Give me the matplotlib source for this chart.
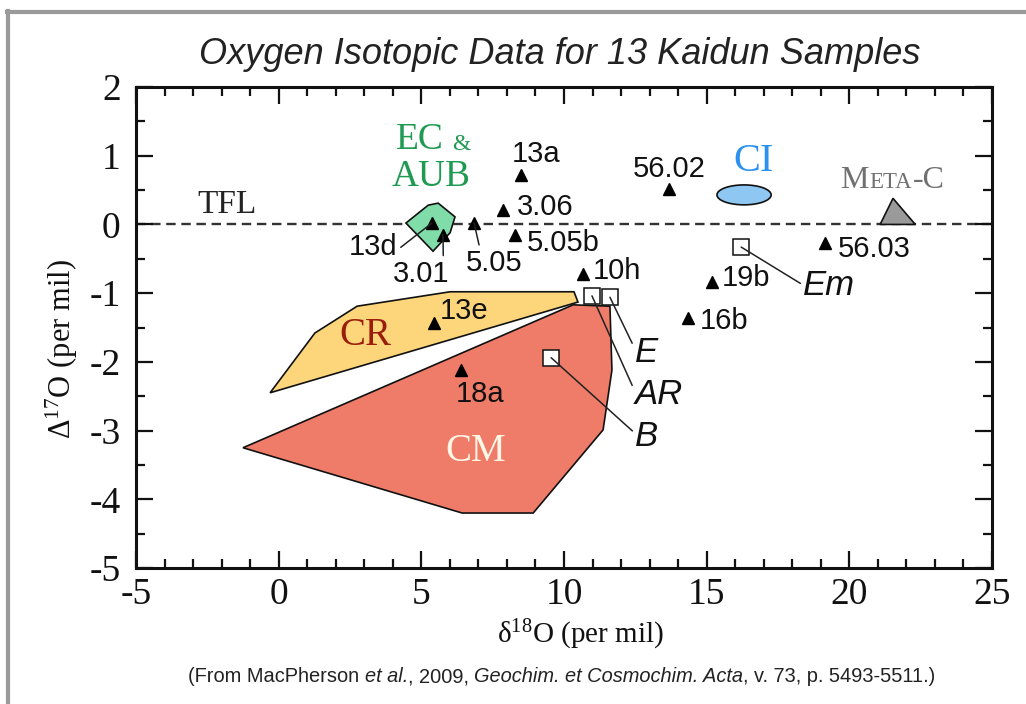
import matplotlib
matplotlib.use('Agg')
import matplotlib.pyplot as plt
from matplotlib.patches import Polygon, Ellipse
from matplotlib.lines import Line2D
from matplotlib.text import Annotation
from matplotlib.ticker import MultipleLocator

plt.rcParams['axes.unicode_minus'] = False
plt.rcParams['mathtext.fontset'] = 'custom'
plt.rcParams['mathtext.rm'] = 'Liberation Serif'
plt.rcParams['mathtext.it'] = 'Liberation Serif:italic'
plt.rcParams['mathtext.bf'] = 'Liberation Serif:bold'

# ---------------- data ----------------
samples = ['13a', '3.06', '5.05b', '13d', '3.01', '5.05', '56.02', '56.03',
           '10h', '19b', '16b', '13e', '18a']
d18O = [8.48, 7.86, 8.28, 5.37, 5.76, 6.85, 13.68, 19.15,
        10.67, 15.19, 14.35, 5.45, 6.39]
D17O = [0.72, 0.21, -0.15, 0.02, -0.15, 0.02, 0.52, -0.27,
        -0.72, -0.84, -1.36, -1.43, -2.12]

groups = ['E', 'AR', 'B', 'Em']
group_d18O = [11.61, 10.98, 9.55, 16.21]
group_D17O = [-1.06, -1.04, -1.94, -0.33]

ec_aub_x = [4.46, 5.24, 5.59, 6.18, 6.01, 5.41]
ec_aub_y = [0.02, 0.28, 0.31, 0.11, -0.12, -0.39]
cr_x = [-0.30, 1.27, 2.75, 6.01, 10.35, 10.49]
cr_y = [-2.45, -1.58, -1.19, -0.98, -0.98, -1.13]
cm_x = [-1.25, 10.32, 11.61, 11.68, 11.37, 8.92, 6.43]
cm_y = [-3.25, -1.17, -1.19, -2.12, -2.99, -4.20, -4.20]
ci_center = (16.31, 0.43)
ci_size = (1.9, 0.29)
metac_x = [21.08, 21.53, 22.31]
metac_y = [0.0, 0.38, 0.0]
tfl_value = 0.0

xticks = [-5, 0, 5, 10, 15, 20, 25]
yticks = [-5, -4, -3, -2, -1, 0, 1, 2]

# ---------------- layout / style ----------------
W, H = 1026, 704
def fx(px): return px / W
def fy(py): return 1 - py / H

SERIF = 'Liberation Serif'
SANS = 'Liberation Sans'

fig = plt.figure(figsize=(W / 100, H / 100), dpi=100)
ax = fig.add_axes([fx(136), fy(568), (992 - 136) / W, (568 - 87) / H])
ax.set_xlim(-5, 25)
ax.set_ylim(-5, 2)
ax.set_xticks(xticks)
ax.set_yticks(yticks)
ax.set_xticklabels([str(t) for t in xticks])
ax.set_yticklabels([str(t) for t in yticks])
ax.xaxis.set_minor_locator(MultipleLocator(1))
ax.yaxis.set_minor_locator(MultipleLocator(0.5))
ax.tick_params(which='both', direction='in', top=True, right=True,
               width=1.6, color='#111')
ax.tick_params(which='major', length=12)
ax.tick_params(which='minor', length=6.5)
ax.tick_params(axis='y', which='major', pad=11)
ax.tick_params(axis='x', which='major', pad=7)
for lab in ax.get_xticklabels() + ax.get_yticklabels():
    lab.set_fontfamily(SERIF)
    lab.set_fontsize(27)
    lab.set_color('#111')
for s in ax.spines.values():
    s.set_linewidth(2.2)
    s.set_color('#111')

# TFL
ax.axhline(tfl_value, color='#333', lw=1.7, dashes=(4.0, 2.4), zorder=1)
ax.text(-1.81, 0.28, 'TFL', fontfamily=SERIF, fontsize=24, color='#222',
        ha='center', va='center')

# fields
ax.add_patch(Polygon(list(zip(cm_x, cm_y)), closed=True, facecolor='#ef7b69',
                     edgecolor='#111', lw=1.2, zorder=2))
ax.add_patch(Polygon(list(zip(cr_x, cr_y)), closed=True, facecolor='#fdd67c',
                     edgecolor='#111', lw=1.2, zorder=2))
ax.add_patch(Polygon(list(zip(ec_aub_x, ec_aub_y)), closed=True,
                     facecolor='#80dca8', edgecolor='#111', lw=1.2, zorder=2))
ax.add_patch(Ellipse(ci_center, ci_size[0], ci_size[1], facecolor='#8ec8f2',
                     edgecolor='#111', lw=1.2, zorder=2))
ax.add_patch(Polygon(list(zip(metac_x, metac_y)), closed=True,
                     facecolor='#9a9a9a', edgecolor='#111', lw=1.2, zorder=2))

# field labels
ax.text(4.95, 1.23, 'EC', fontfamily=SERIF, fontsize=27, color='#1f9a52',
        ha='center', va='center')
ax.text(6.39, 1.17, '&', fontfamily=SERIF, fontsize=17, color='#1f9a52',
        ha='center', va='center')
ax.text(5.34, 0.70, 'AUB', fontfamily=SERIF, fontsize=27, color='#1f9a52',
        ha='center', va='center')
ax.text(3.03, -1.62, 'CR', fontfamily=SERIF, fontsize=28, color='#9a1c0a',
        ha='center', va='center', zorder=3)
ax.text(6.92, -3.30, 'CM', fontfamily=SERIF, fontsize=28, color='#fff7e6',
        ha='center', va='center', zorder=3)
ax.text(16.63, 0.91, 'CI', fontfamily=SERIF, fontsize=29, color='#2b90ee',
        ha='center', va='center')
tM = ax.text(19.68, 0.53, 'M', fontfamily=SERIF, fontsize=23, color='#707070',
             ha='left', va='baseline')
tE = ax.annotate('ETA', xy=(1, 0), xycoords=tM, xytext=(0.5, 1.5),
                 textcoords='offset points', fontfamily=SERIF, fontsize=16.5,
                 color='#707070', ha='left', va='bottom')
ax.annotate('-C', xy=(1, 0), xycoords=tE, xytext=(0.5, -1.5),
            textcoords='offset points', fontfamily=SERIF, fontsize=23,
            color='#707070', ha='left', va='bottom')

# group squares
ax.plot(group_d18O, group_D17O, linestyle='none', marker='s', ms=12,
        mfc='white', mec='#111', mew=1.1, zorder=4)
grp_off = {'E': (25, -55, (0, 0.6)), 'AR': (43, -99, (0, 0.6)),
           'B': (84, -79, (0, 0.6)), 'Em': (62, -38, (0, 0.5))}
for g, x, y in zip(groups, group_d18O, group_D17O):
    dx, dy, rp = grp_off[g]
    ax.annotate(g, xy=(x, y), xytext=(dx, dy), textcoords='offset pixels',
                fontfamily=SANS, fontstyle='italic', fontsize=25, color='#111',
                ha='left', va='center', zorder=5,
                arrowprops=dict(arrowstyle='-', color='#222', lw=1.1,
                                shrinkA=0, shrinkB=0, relpos=rp))

# sample triangles
ax.plot(d18O, D17O, linestyle='none', marker='^', ms=9, mfc='black',
        mec='black', zorder=5)
lab_off = {'13a': (15, 21, 'center', None), '3.06': (14, 3, 'left', None),
           '5.05b': (12, -8, 'left', None),
           '13d': (-35, -24, 'right', (1.05, 0.45)),
           '3.01': (-22, -39, 'center', (0.9, 0.0)),
           '5.05': (20, -40, 'center', (0.25, 1.0)),
           '56.02': (0, 20, 'center', None), '56.03': (13, -6, 'left', None),
           '10h': (10, 3, 'left', None), '19b': (10, 4, 'left', None),
           '16b': (12, -3, 'left', None), '13e': (6, 12, 'left', None),
           '18a': (19, -24, 'center', None)}
for s, x, y in zip(samples, d18O, D17O):
    dx, dy, ha, rp = lab_off[s]
    kw = {}
    if rp is not None:
        kw['arrowprops'] = dict(arrowstyle='-', color='#222', lw=1.1,
                                shrinkA=1, shrinkB=0, relpos=rp)
    ax.annotate(s, xy=(x, y), xytext=(dx, dy), textcoords='offset pixels',
                fontfamily=SANS, fontsize=21, color='#111', ha=ha,
                va='center', zorder=6, **kw)

# axis labels
fig.text(fx(580), fy(635), 'δ$^{18}$O (per mil)', fontfamily=SERIF,
         fontsize=21, ha='center', va='center', color='#111')
fig.text(fx(62), fy(349), 'Δ$^{17}$O (per mil)', fontfamily=SERIF,
         fontsize=22, ha='center', va='center', rotation=90, color='#111')

# title
fig.text(fx(560), fy(55), 'Oxygen Isotopic Data for 13 Kaidun Samples',
         fontfamily=SANS, fontstyle='italic', fontsize=26, ha='center',
         va='center', color='#222')

# caption (chained pieces, mixed upright / italic)
parts = [('(From MacPherson ', 'normal'), ('et al.', 'italic'),
         (', 2009, ', 'normal'), ('Geochim. et Cosmochim. Acta', 'italic'),
         (', v. 73, p. 5493-5511.)', 'normal')]
CAP = 14.4
prev = fig.text(fx(188), fy(677), parts[0][0], fontfamily=SANS, fontsize=CAP,
                ha='left', va='center', color='#222')
for txt, st in parts[1:]:
    prev = fig.add_artist(Annotation(
        txt, xy=(1, 0), xycoords=prev, xytext=(0, 0),
        textcoords='offset points', fontfamily=SANS, fontstyle=st,
        fontsize=CAP, ha='left', va='bottom', color='#222'))

# gray frame
fig.add_artist(Line2D([fx(7), 1], [fy(12), fy(12)], color='#9a9a9a', lw=3))
fig.add_artist(Line2D([fx(8), fx(8)], [fy(11), 0], color='#9a9a9a', lw=3))

fig.savefig('out.png', dpi=100)
